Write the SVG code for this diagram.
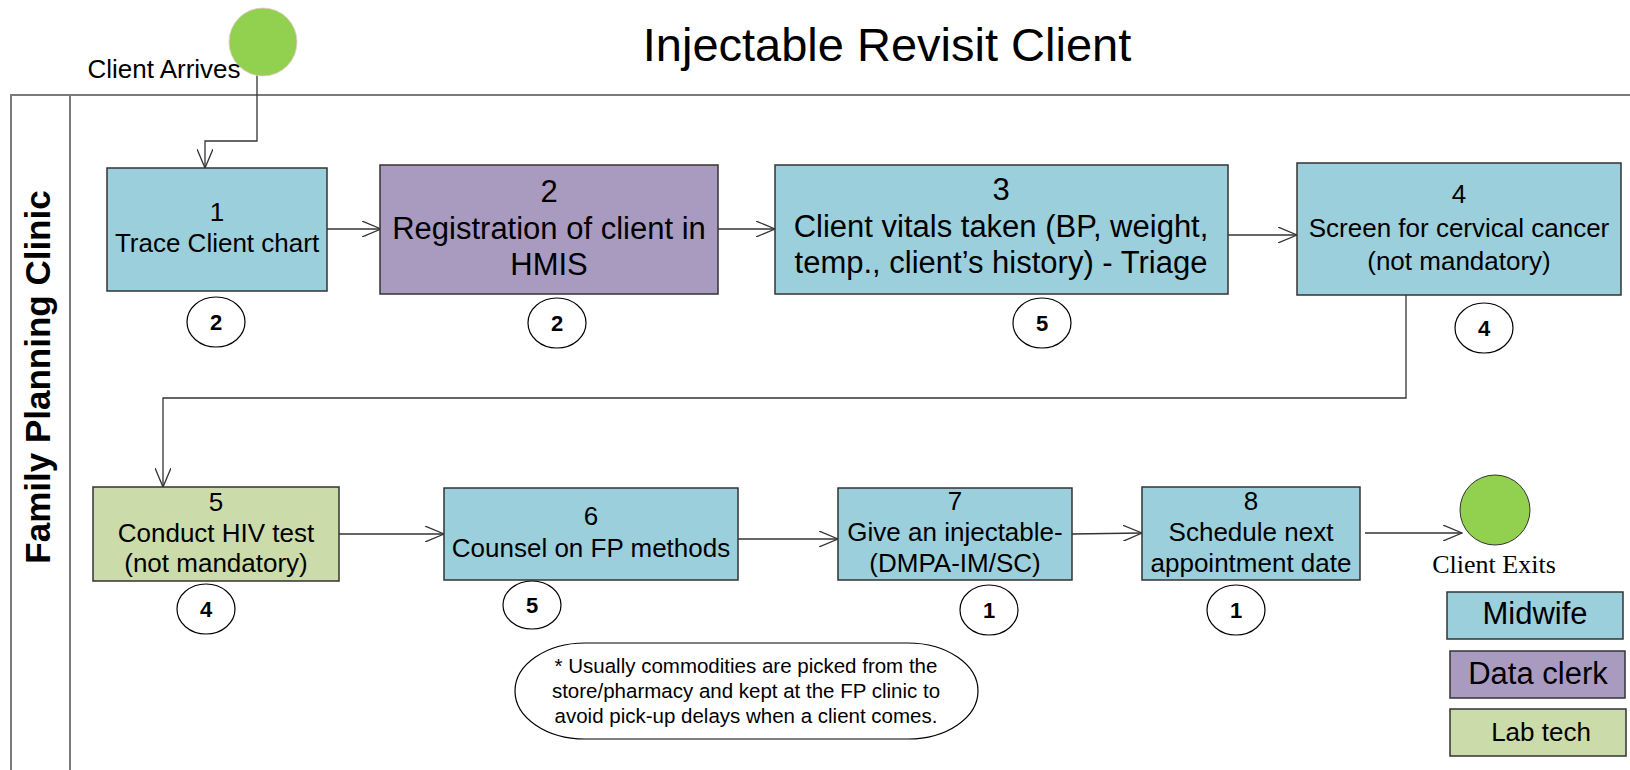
<svg xmlns="http://www.w3.org/2000/svg" width="1630" height="770" viewBox="0 0 1630 770">
<defs>
<style>
.t{font-family:"Liberation Sans",Arial,sans-serif;fill:#000;text-anchor:middle}
.box{stroke:#333;stroke-width:1.5}
.mw{fill:#9BCFDC}
.dc{fill:#A99BC0}
.lt{fill:#CBDBA9}
.lane{stroke:#7a7a7a;stroke-width:2;fill:none}
.cn{stroke:#333;stroke-width:1.3;fill:none}
.tm{fill:#fff;stroke:#000;stroke-width:1.2}
.tb{font-family:"Liberation Sans",Arial,sans-serif;font-weight:bold;font-size:22px;text-anchor:middle}
</style>
<marker id="ah" viewBox="0 0 20 16" refX="19" refY="8" markerWidth="20" markerHeight="16" markerUnits="userSpaceOnUse" orient="auto">
<path d="M0,0 L19,8 L0,16" fill="none" stroke="#333" stroke-width="1.3"/>
</marker>
</defs>

<rect width="1630" height="770" fill="#fff"/>

<g id="title">
<text class="t" x="887" y="61" font-size="47">Injectable Revisit Client</text>
</g>

<g id="lane">
<path class="lane" d="M11,770 V95 H1630"/>
<line class="lane" x1="70" y1="95" x2="70" y2="770"/>
<text class="t" transform="translate(50,377) rotate(-90)" font-size="35" font-weight="bold">Family Planning Clinic</text>
</g>

<g id="connectors">
<path class="cn" d="M257,72 V141 H205 V168" marker-end="url(#ah)"/>
<line class="cn" x1="327" y1="229" x2="381" y2="229" marker-end="url(#ah)"/>
<line class="cn" x1="718" y1="229" x2="775" y2="229" marker-end="url(#ah)"/>
<line class="cn" x1="1228" y1="235" x2="1297" y2="235" marker-end="url(#ah)"/>
<path class="cn" d="M1406,295 V398 H163 V487" marker-end="url(#ah)"/>
<line class="cn" x1="339" y1="534" x2="444" y2="534" marker-end="url(#ah)"/>
<line class="cn" x1="738" y1="539" x2="838" y2="539" marker-end="url(#ah)"/>
<line class="cn" x1="1072" y1="534" x2="1142" y2="533" marker-end="url(#ah)"/>
<line class="cn" x1="1365" y1="533" x2="1462" y2="533" marker-end="url(#ah)"/>
</g>

<g id="start">
<circle cx="263" cy="42" r="34" fill="#92D050" stroke="#e8c8c8" stroke-width="0.8"/>
<text class="t" x="164" y="78" font-size="26">Client Arrives</text>
</g>

<g id="step1">
<rect class="box mw" x="107" y="168" width="220" height="123"/>
<text class="t" x="217" y="221" font-size="26">1</text>
<text class="t" x="217" y="252" font-size="26">Trace Client chart</text>
<ellipse class="tm" cx="216" cy="322" rx="29" ry="25"/>
<text class="tb" x="216" y="330">2</text>
</g>

<g id="step2">
<rect class="box dc" x="380" y="165" width="338" height="129"/>
<text class="t" x="549" y="202" font-size="31">2</text>
<text class="t" x="549" y="239" font-size="31">Registration of client in</text>
<text class="t" x="549" y="275" font-size="31">HMIS</text>
<ellipse class="tm" cx="557" cy="323" rx="29" ry="25"/>
<text class="tb" x="557" y="331">2</text>
</g>

<g id="step3">
<rect class="box mw" x="775" y="165" width="453" height="129"/>
<text class="t" x="1001" y="200" font-size="31">3</text>
<text class="t" x="1001" y="237" font-size="31">Client vitals taken (BP, weight,</text>
<text class="t" x="1001" y="273" font-size="31">temp., client’s history) - Triage</text>
<ellipse class="tm" cx="1042" cy="323" rx="29" ry="25"/>
<text class="tb" x="1042" y="331">5</text>
</g>

<g id="step4">
<rect class="box mw" x="1297" y="163" width="324" height="132"/>
<text class="t" x="1459" y="203" font-size="26">4</text>
<text class="t" x="1459" y="237" font-size="26">Screen for cervical cancer</text>
<text class="t" x="1459" y="270" font-size="26">(not mandatory)</text>
<ellipse class="tm" cx="1484" cy="328" rx="29" ry="25"/>
<text class="tb" x="1484" y="336">4</text>
</g>

<g id="step5">
<rect class="box lt" x="93" y="487" width="246" height="94"/>
<text class="t" x="216" y="511" font-size="26">5</text>
<text class="t" x="216" y="542" font-size="26">Conduct HIV test</text>
<text class="t" x="216" y="572" font-size="26">(not mandatory)</text>
<ellipse class="tm" cx="206" cy="609" rx="29" ry="25"/>
<text class="tb" x="206" y="617">4</text>
</g>

<g id="step6">
<rect class="box mw" x="444" y="488" width="294" height="92"/>
<text class="t" x="591" y="525" font-size="26">6</text>
<text class="t" x="591" y="557" font-size="26">Counsel on FP methods</text>
<ellipse class="tm" cx="532" cy="605" rx="29" ry="24"/>
<text class="tb" x="532" y="613">5</text>
</g>

<g id="step7">
<rect class="box mw" x="838" y="488" width="234" height="92"/>
<text class="t" x="955" y="510" font-size="26">7</text>
<text class="t" x="955" y="541" font-size="26">Give an injectable-</text>
<text class="t" x="955" y="572" font-size="26">(DMPA-IM/SC)</text>
<ellipse class="tm" cx="989" cy="610" rx="29" ry="25"/>
<text class="tb" x="989" y="618">1</text>
</g>

<g id="step8">
<rect class="box mw" x="1142" y="487" width="218" height="93"/>
<text class="t" x="1251" y="510" font-size="26">8</text>
<text class="t" x="1251" y="541" font-size="26">Schedule next</text>
<text class="t" x="1251" y="572" font-size="26">appointment date</text>
<ellipse class="tm" cx="1236" cy="610" rx="29" ry="25"/>
<text class="tb" x="1236" y="618">1</text>
</g>

<g id="end">
<circle cx="1495" cy="510" r="35" fill="#92D050" stroke="#333" stroke-width="1"/>
<text x="1494" y="573" font-size="26" font-family="'Liberation Serif','Times New Roman',serif" text-anchor="middle">Client Exits</text>
</g>

<g id="note">
<rect x="515" y="643" width="463" height="96" rx="70" ry="48" fill="#fff" stroke="#000" stroke-width="1.2"/>
<text class="t" x="746" y="673" font-size="20.5">* Usually commodities are picked from the</text>
<text class="t" x="746" y="698" font-size="20.5">store/pharmacy and kept at the FP clinic to</text>
<text class="t" x="746" y="723" font-size="20.5">avoid pick-up delays when a client comes.</text>
</g>

<g id="legend">
<rect class="box mw" x="1447" y="592" width="176" height="47"/>
<text class="t" x="1535" y="624" font-size="31">Midwife</text>
<rect class="box dc" x="1450" y="651" width="175" height="47"/>
<text class="t" x="1538" y="684" font-size="31">Data clerk</text>
<rect class="box lt" x="1450" y="709" width="176" height="47"/>
<text class="t" x="1541" y="741" font-size="26">Lab tech</text>
</g>
</svg>
